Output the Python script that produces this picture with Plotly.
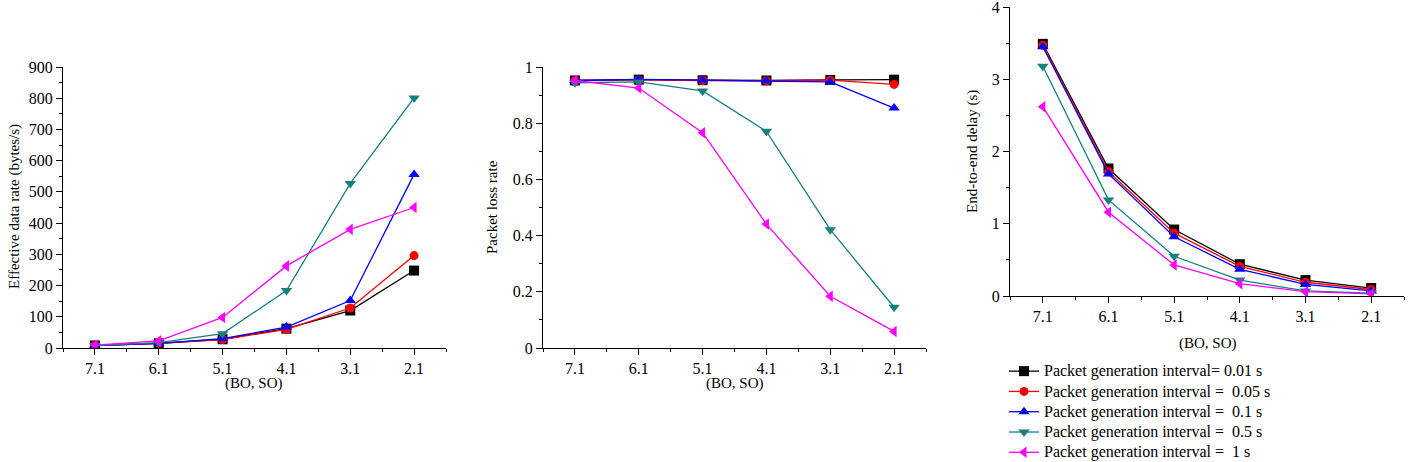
import plotly.graph_objects as go

categories = ["7.1", "6.1", "5.1", "4.1", "3.1", "2.1"]
series_names = [
    "Packet generation interval= 0.01 s",
    "Packet generation interval =  0.05 s",
    "Packet generation interval =  0.1 s",
    "Packet generation interval =  0.5 s",
    "Packet generation interval =  1 s",
]

rate_001 = [8, 15, 28, 62, 120, 248]
rate_005 = [8, 15, 27, 60, 128, 296]
rate_01 = [8, 15, 30, 67, 152, 556]
rate_05 = [8, 17, 46, 184, 527, 801]
rate_1 = [9, 23, 98, 263, 380, 450]

loss_001 = [0.952, 0.955, 0.953, 0.952, 0.954, 0.955]
loss_005 = [0.952, 0.954, 0.952, 0.951, 0.953, 0.938]
loss_01 = [0.952, 0.956, 0.953, 0.951, 0.947, 0.854]
loss_05 = [0.944, 0.947, 0.915, 0.771, 0.421, 0.145]
loss_1 = [0.952, 0.925, 0.766, 0.441, 0.184, 0.059]

delay_001 = [3.49, 1.765, 0.92, 0.44, 0.22, 0.11]
delay_005 = [3.47, 1.72, 0.87, 0.41, 0.19, 0.09]
delay_01 = [3.45, 1.69, 0.82, 0.37, 0.16, 0.07]
delay_05 = [3.18, 1.33, 0.55, 0.22, 0.07, 0.04]
delay_1 = [2.62, 1.16, 0.43, 0.17, 0.06, 0.03]

y_titles = ["Effective data rate (bytes/s)", "Packet loss rate", "End-to-end delay (s)"]
x_title = "(BO, SO)"

colors = ["#000000", "#ff0000", "#0000ff", "#168080", "#ff00ff"]
symbols = ["square", "circle", "triangle-up", "triangle-down", "triangle-left"]

rates = [rate_001, rate_005, rate_01, rate_05, rate_1]
losses = [loss_001, loss_005, loss_01, loss_05, loss_1]
delays = [delay_001, delay_005, delay_01, delay_05, delay_1]

xpos = list(range(len(categories)))
FONT = "Liberation Serif"
FS = 16
TFS = 15
W, H = 1411, 462

fig = go.Figure()

panels = [
    ("x", "y", rates),
    ("x2", "y2", losses),
    ("x3", "y3", delays),
]
for pi, (xa, ya, data) in enumerate(panels):
    for i in range(5):
        fig.add_trace(go.Scatter(
            x=xpos, y=data[i], xaxis=xa, yaxis=ya,
            mode="lines+markers",
            name="<span style='font-size:16px'>" + series_names[i] + "</span>",
            showlegend=(pi == 2),
            line=dict(color=colors[i], width=1.3),
            marker=dict(symbol=symbols[i], size=10 if i != 1 else 9, color=colors[i]),
        ))

def xd(a, b):
    return [a / W, b / W]

def yd(top, bottom):
    return [(H - bottom) / H, (H - top) / H]

def px(x):
    return x / W

def py(y):
    return (H - y) / H

common_x = dict(
    tickvals=xpos, ticktext=categories, range=[-0.5, 5.5], automargin=False,
    showgrid=False, zeroline=False, showline=True, linecolor="black", linewidth=1.2,
    ticks="outside", ticklen=6, tickwidth=1.2, tickcolor="black",
    minor=dict(ticks="outside", ticklen=3, tickwidth=1, tickcolor="black", tickvals=[-0.5 + k for k in range(7)]),
    tickfont=dict(family=FONT, size=FS, color="black"),
)
common_y = dict(
    showgrid=False, zeroline=False, showline=True, linecolor="black", linewidth=1.2,
    ticks="outside", ticklen=6, tickwidth=1.2, tickcolor="black", automargin=False,
    ticklabeloverflow="allow",
    tickfont=dict(family=FONT, size=FS, color="black"),
)

annotations = []
ytitle_pos = [(14, 207), (492, 207), (973, 152)]
xtitle_pos = [(254, 383), (735, 383), (1208, 343)]
for k in range(3):
    annotations.append(dict(text=y_titles[k], x=px(ytitle_pos[k][0]), y=py(ytitle_pos[k][1]),
                            xref="paper", yref="paper", showarrow=False, textangle=-90,
                            xanchor="center", yanchor="middle",
                            font=dict(family=FONT, size=TFS, color="black")))
    annotations.append(dict(text=x_title, x=px(xtitle_pos[k][0]), y=py(xtitle_pos[k][1]),
                            xref="paper", yref="paper", showarrow=False,
                            xanchor="center", yanchor="middle",
                            font=dict(family=FONT, size=TFS, color="black")))

fig.update_layout(
    width=W, height=H,
    margin=dict(l=0, r=0, t=0, b=0, autoexpand=False),
    paper_bgcolor="white", plot_bgcolor="white",
    font=dict(family=FONT, size=FS, color="black"),
    xaxis=dict(domain=xd(63, 446), anchor="y", **common_x),
    yaxis=dict(domain=yd(67, 348), anchor="x", range=[0, 900], dtick=100,
               minor=dict(ticks="outside", ticklen=3, dtick=50, tickcolor="black"),
               **common_y),
    xaxis2=dict(domain=xd(543, 926), anchor="y2", **common_x),
    yaxis2=dict(domain=yd(67, 348), anchor="x2", range=[0, 1], dtick=0.2,
                tickformat="~g",
                minor=dict(ticks="outside", ticklen=3, dtick=0.1, tickcolor="black"),
                **common_y),
    xaxis3=dict(domain=xd(1010, 1404), anchor="y3", **common_x),
    yaxis3=dict(domain=yd(7, 296), anchor="x3", range=[0, 4], dtick=1,
                minor=dict(ticks="outside", ticklen=3, dtick=0.5, tickcolor="black"),
                **common_y),
    annotations=annotations,
    legend=dict(
        x=1004 / W, y=(H - 356) / H, xanchor="left", yanchor="top",
        font=dict(family=FONT, size=13.3, color="black"),
        bgcolor="rgba(0,0,0,0)", tracegroupgap=0, itemwidth=30,
    ),
)

fig.write_html("out.html", config={"displayModeBar": False},
               post_script="document.body.style.margin='0';document.body.style.overflow='hidden';")
